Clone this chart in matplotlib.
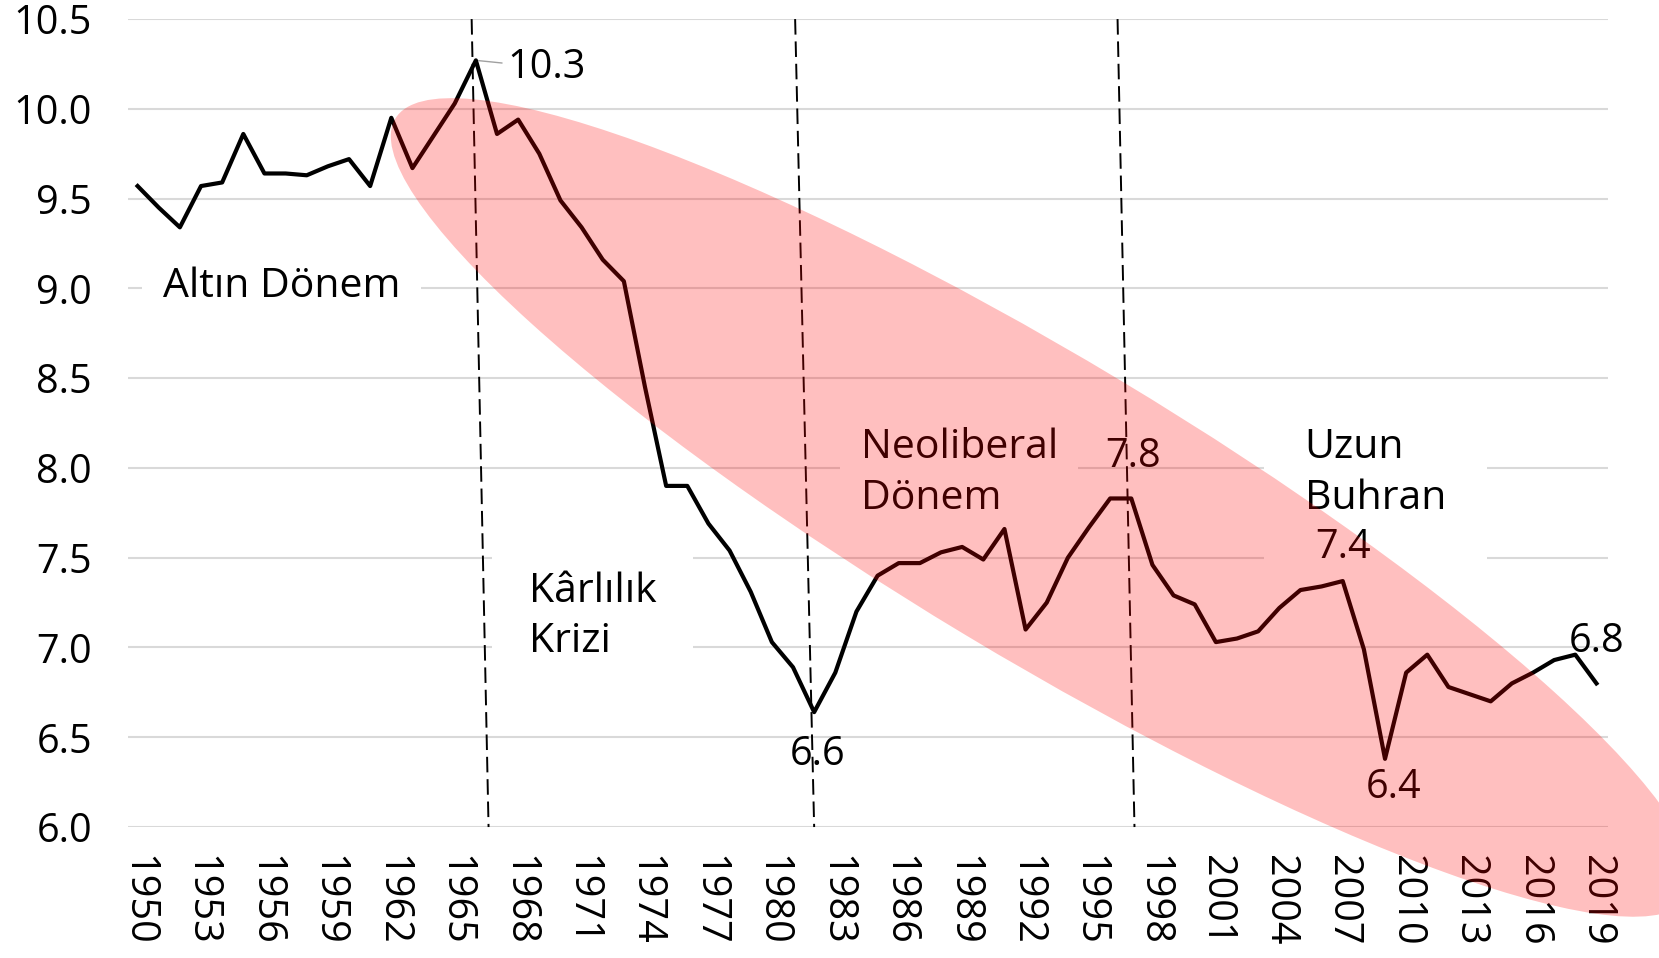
import matplotlib
matplotlib.use("Agg")
import matplotlib.pyplot as plt
from matplotlib.patches import Ellipse
from matplotlib.transforms import IdentityTransform

plt.rcParams["font.family"] = ["Open Sans", "DejaVu Sans"]

# Profit rate series, 1950-2019
years = list(range(1950, 2020))
rate = [9.57, 9.45, 9.34, 9.57, 9.59, 9.86, 9.64, 9.64, 9.63, 9.68,
        9.72, 9.57, 9.95, 9.67, 9.85, 10.03, 10.27, 9.86, 9.94, 9.75,
        9.49, 9.34, 9.16, 9.04, 8.45, 7.90, 7.90, 7.69, 7.54, 7.31,
        7.03, 6.89, 6.64, 6.86, 7.20, 7.40, 7.47, 7.47, 7.53, 7.56,
        7.49, 7.66, 7.10, 7.25, 7.50, 7.67, 7.83, 7.83, 7.46, 7.29,
        7.24, 7.03, 7.05, 7.09, 7.22, 7.32, 7.34, 7.37, 6.99, 6.38,
        6.86, 6.96, 6.78, 6.74, 6.70, 6.80, 6.86, 6.93, 6.96, 6.80]

# Period borders (top year, bottom year)
borders = [(1965.8, 1966.6), (1981.1, 1982.0), (1996.35, 1997.15)]

fig = plt.figure(figsize=(16.59, 9.58), dpi=100)
ax = fig.add_axes([0.0772, 0.1367, 0.8921, 0.8434])

ax.set_xlim(1949.55, 2019.55)
ax.set_ylim(6.0, 10.5)

# Grid and ticks
ax.set_yticks([6.0, 6.5, 7.0, 7.5, 8.0, 8.5, 9.0, 9.5, 10.0, 10.5])
ax.set_yticklabels(["%.1f" % v for v in ax.get_yticks()])
ax.set_xticks(years[::3])
ax.set_xticklabels([str(y) for y in years[::3]], rotation=-90)
ax.grid(axis="y", color="#d9d9d9", linewidth=1.5)
ax.set_axisbelow(True)
ax.tick_params(axis="both", length=0, labelsize=28.5, colors="black")
ax.tick_params(axis="y", pad=26)
ax.tick_params(axis="x", pad=20)
for s in ax.spines.values():
    s.set_visible(False)

# Main line
ax.plot(years, rate, color="black", linewidth=3, zorder=3)

# Dashed period borders
for top, bot in borders:
    ax.plot([top, bot], [10.5, 6.0], color="black", linewidth=1.4,
            linestyle=(0, (8, 3.5)), zorder=2, clip_on=False)

# Value labels
fs = 28.5
ax.annotate("10.3", xy=(1966, 10.27), xytext=(1967.5, 10.23),
            fontsize=fs, va="center", ha="left",
            arrowprops=dict(arrowstyle="-", color="#a0a0a0", lw=1))
ax.text(1982.15, 6.40, "6.6", fontsize=fs, ha="center", va="center", zorder=4)
ax.text(1997.1, 8.06, "7.8", fontsize=fs, ha="center", va="center", zorder=4)
ax.text(2007.0, 7.555, "7.4", fontsize=fs, ha="center", va="center", zorder=4)
ax.text(2009.4, 6.22, "6.4", fontsize=fs, ha="center", va="center", zorder=4)
ax.text(2019.0, 7.03, "6.8", fontsize=fs, ha="center", va="center", zorder=4)

# Period names
ts = 29.5
ax.text(1951.2, 9.01, "Altın Dönem", fontsize=ts, ha="left", va="center",
        bbox=dict(facecolor="white", edgecolor="none", boxstyle="square,pad=0.5"),
        zorder=2.5)
ax.text(1968.5, 7.17, "Kârlılık\nKrizi", fontsize=ts, ha="left", va="center",
        linespacing=1.33, bbox=dict(facecolor="white", edgecolor="none",
                                    boxstyle="square,pad=0.9"), zorder=2.5)
ax.text(1984.2, 7.97, "Neoliberal\nDönem", fontsize=ts, ha="left", va="center",
        linespacing=1.33, bbox=dict(facecolor="white", edgecolor="none",
                                    boxstyle="square,pad=0.5"), zorder=2.5)
ax.text(2005.2, 7.97, "Uzun\nBuhran", fontsize=ts, ha="left", va="center",
        linespacing=1.33, bbox=dict(facecolor="white", edgecolor="none",
                                    boxstyle="square,pad=1.0"), zorder=2.5)

# Red highlight ellipse over the decline
cx, cy = ax.transData.transform((1992.8, 7.78))
ell = Ellipse((cx, cy), 1510, 298, angle=-31, transform=IdentityTransform(),
              facecolor="red", alpha=0.25, edgecolor="none", zorder=5)
fig.add_artist(ell)

fig.savefig("out.png", dpi=100)
